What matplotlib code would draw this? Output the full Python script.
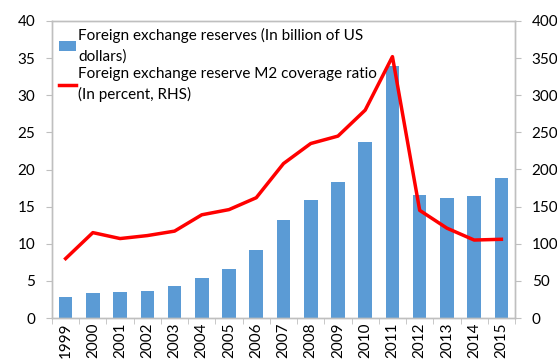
import matplotlib
matplotlib.use("Agg")
import matplotlib.pyplot as plt
import numpy as np
from matplotlib.ticker import FixedLocator, NullFormatter

years = ["1999", "2000", "2001", "2002", "2003", "2004", "2005", "2006", "2007",
         "2008", "2009", "2010", "2011", "2012", "2013", "2014", "2015"]
reserves = [2.8, 3.3, 3.5, 3.7, 4.3, 5.4, 6.6, 9.1, 13.2,
            15.9, 18.3, 23.7, 34.0, 16.6, 16.1, 16.4, 18.8]
coverage = [80, 115, 107, 111, 117, 139, 146, 162, 208,
            235, 245, 280, 352, 145, 121, 105, 106]

plt.rcParams['font.family'] = ['Lato', 'DejaVu Sans']
fig = plt.figure(figsize=(5.57, 3.6), dpi=100)
ax = fig.add_axes([52/557, 1-318/360, (515-52)/557, (318-21)/360])
ax2 = ax.twinx()

x = np.arange(len(years))
bars = ax.bar(x, reserves, width=0.5, color='#5B9BD5', zorder=2,
              label='Foreign exchange reserves (In billion of US\ndollars)')
line, = ax2.plot(x, coverage, color='#FF0000', lw=2.5, zorder=3,
                 label='Foreign exchange reserve M2 coverage ratio\n(In percent, RHS)')

ax.set_xlim(-0.5, len(years) - 0.5)
ax.set_ylim(0, 40)
ax2.set_ylim(0, 400)
ax.set_yticks(range(0, 41, 5))
ax2.set_yticks(range(0, 401, 50))
ax.set_xticks(x)
ax.set_xticklabels(years, rotation=90)
ax.tick_params(axis='x', length=0, pad=3, labelsize=11)
ax.xaxis.set_minor_locator(FixedLocator(np.arange(-0.5, len(years), 1)))
ax.xaxis.set_minor_formatter(NullFormatter())
ax.tick_params(axis='x', which='minor', length=4, color='#BFBFBF', direction='out')

for a in (ax, ax2):
    for s in a.spines.values():
        s.set_color('#BFBFBF')
        s.set_linewidth(1.0)
ax.tick_params(axis='y', length=4, color='#BFBFBF', labelsize=11, pad=8)
ax2.tick_params(axis='y', length=4, color='#BFBFBF', labelsize=11, pad=8)

leg = ax2.legend([bars, line], [bars.get_label(), line.get_label()],
                 loc='upper left', bbox_to_anchor=(0.0, 1.0), frameon=False,
                 fontsize=11, handlelength=1.1, handletextpad=0.15,
                 borderaxespad=0.1, borderpad=0.35, labelspacing=0.2)
for t in leg.get_texts():
    t.set_linespacing(1.55)

fig.savefig("out.png", dpi=100)
